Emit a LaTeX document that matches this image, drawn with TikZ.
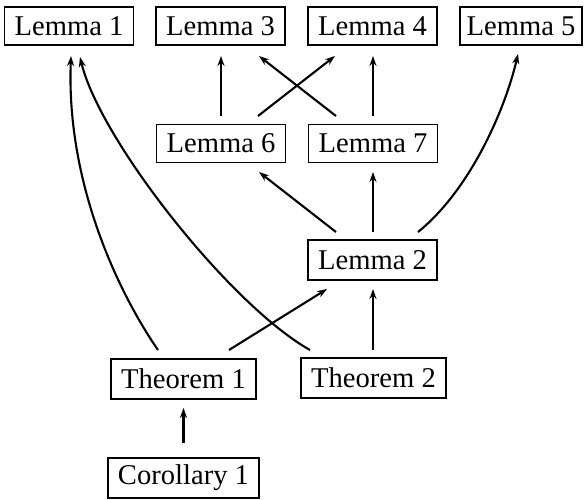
\documentclass[tikz,border=0pt]{standalone}
\usepackage{fontspec}
\setmainfont{Liberation Serif}
\usetikzlibrary{arrows.meta}
\begin{document}
\begin{tikzpicture}[x=1pt,y=-1pt,
  box/.style={draw,line width=1.1pt,inner xsep=0pt,inner ysep=0pt,minimum height=38pt,
    font=\fontsize{28.6}{30}\selectfont,anchor=center},
  lbox/.style={box,minimum width=129pt},
  arr/.style={line width=2.1pt,-{Stealth[length=10pt,width=7pt]}}]
\useasboundingbox (0,0) rectangle (584,499);
\node[lbox] (l1) at (69,26) {Lemma 1};
\node[lbox] (l3) at (220.5,26) {Lemma 3};
\node[lbox] (l4) at (372.5,26) {Lemma 4};
\node[box,minimum width=122pt] (l5) at (521,26) {Lemma 5};
\node[lbox] (l6) at (221,143.5) {Lemma 6};
\node[lbox] (l7) at (373,143.5) {Lemma 7};
\node[lbox,minimum height=40pt] (l2) at (372.5,260) {Lemma 2};
\node[box,minimum width=145pt,minimum height=40pt] (t1) at (183.5,379) {Theorem 1};
\node[box,minimum width=145pt,minimum height=40pt] (t2) at (373.5,378) {Theorem 2};
\node[box,minimum width=151pt,minimum height=40pt] (c1) at (183.5,478) {Corollary 1};
% connector end points
\coordinate (l6t) at (221,116);
\coordinate (l3b) at (221,56);
\coordinate (l6tr) at (258,116);
\coordinate (l4bl) at (335,56);
\coordinate (l7tl) at (336,116);
\coordinate (l3br) at (259,56);
\coordinate (l7t) at (373,116);
\coordinate (l4b) at (373,56);
\coordinate (l2tl) at (336,232);
\coordinate (l6br) at (259,172);
\coordinate (l2t) at (373,232);
\coordinate (l7b) at (373,172);
\coordinate (l2tr) at (418,232);
\coordinate (l5b) at (518,54);
\coordinate (t1tr) at (229,350);
\coordinate (l2bl) at (327,289);
\coordinate (t2t) at (373,350);
\coordinate (l2b) at (373,289);
\coordinate (t1tl) at (158,350);
\coordinate (l1bl) at (71,56);
\coordinate (t2tl) at (310,350);
\coordinate (l1br) at (80,57);
\coordinate (c1t) at (183.5,443);
\coordinate (t1b) at (183.5,408);
\draw[arr] (l6t) -- (l3b);
\draw[arr] (l6tr) -- (l4bl);
\draw[arr] (l7tl) -- (l3br);
\draw[arr] (l7t) -- (l4b);
\draw[arr] (l2tl) -- (l6br);
\draw[arr] (l2t) -- (l7b);
\draw[arr] (l2tr) .. controls (470,190) and (505,110) .. (l5b);
\draw[arr] (t1tr) -- (l2bl);
\draw[arr] (t2t) -- (l2b);
\draw[arr] (t1tl) .. controls (120,295) and (66,185) .. (l1bl);
\draw[arr] (t2tl) .. controls (230,305) and (100,140) .. (l1br);
\draw[arr] (c1t) -- (t1b);
\end{tikzpicture}
\end{document}
